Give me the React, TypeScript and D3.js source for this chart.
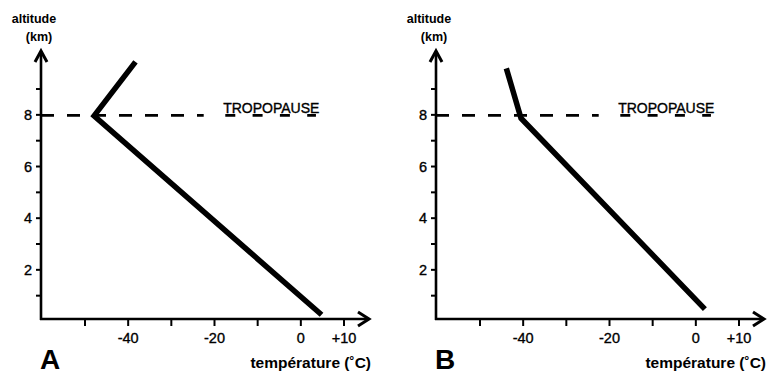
import { useEffect, useRef } from 'react'
import { line, scaleLinear, select } from 'd3'

// temperature (°C) / altitude (km) profiles
const panelLabels = ['A', 'B']
const tempA = [4.8, -47.9, -38.3]
const altA = [0.26, 7.96, 10.05]
const tempB = [2.1, -40.5, -43.9]
const altB = [0.48, 7.87, 9.8]

const xTicks = [-50, -40, -30, -20, -10, 0, 10]
const xTickLabels = ['', '-40', '', '-20', '', '0', '+10']
const yTicks = [1, 2, 3, 4, 5, 6, 7, 8, 9]
const yTickLabels = ['', '2', '', '4', '', '6', '', '8', '']
const tropopause = 8

const dims = {
  width: 774,
  height: 385,
  panelShift: 395,
  axisX: 41,
  axisY: 319,
  arrowTop: 50,
  arrowRight: 370,
}

const font = "'Liberation Sans', Arial, Helvetica, sans-serif"

const App = () => {
  const ref = useRef<SVGSVGElement | null>(null)

  useEffect(() => {
    const svg = select(ref.current)
    svg.selectAll('*').remove()

    const x = scaleLinear().domain([-50, 10]).range([85, 344])
    const y = scaleLinear().domain([0, 10]).range([321.5, 63.2])

    const series = [
      tempA.map((t, i) => ({ t, a: altA[i] })),
      tempB.map((t, i) => ({ t, a: altB[i] })),
    ]

    const path = line<{ t: number; a: number }>()
      .x(d => x(d.t))
      .y(d => y(d.a))

    // plain text, thickened a touch to look like the crisp bitmap lettering
    const label = (g: any, tx: number, ty: number, txt: string, size: number, anchor = 'start', bold = false) =>
      g.append('text')
        .attr('x', tx).attr('y', ty)
        .attr('text-anchor', anchor)
        .attr('font-family', font).attr('font-size', size)
        .attr('font-weight', bold ? 'bold' : 'normal')
        .attr('stroke', bold ? 'none' : '#000').attr('stroke-width', 0.35)
        .text(txt)

    series.forEach((data, p) => {
      const g = svg.append('g').attr('transform', `translate(${p * dims.panelShift}, 0)`)

      // axes
      g.append('line')
        .attr('x1', dims.axisX).attr('x2', dims.axisX)
        .attr('y1', dims.axisY + 1).attr('y2', dims.arrowTop + 1)
        .attr('stroke', '#000').attr('stroke-width', 2.6)
      g.append('line')
        .attr('x1', dims.axisX - 1).attr('x2', dims.arrowRight - 1)
        .attr('y1', dims.axisY).attr('y2', dims.axisY)
        .attr('stroke', '#000').attr('stroke-width', 2.6)
      g.append('path')
        .attr('d', `M${dims.axisX - 6},${dims.arrowTop + 12} L${dims.axisX},${dims.arrowTop + 1} L${dims.axisX + 6},${dims.arrowTop + 12}`)
        .attr('fill', 'none').attr('stroke', '#000').attr('stroke-width', 3)
      g.append('path')
        .attr('d', `M${dims.arrowRight - 12},${dims.axisY - 7} L${dims.arrowRight - 1},${dims.axisY} L${dims.arrowRight - 12},${dims.axisY + 7}`)
        .attr('fill', 'none').attr('stroke', '#000').attr('stroke-width', 3)

      // x ticks
      g.selectAll('.xt').data(xTicks).enter().append('line')
        .attr('x1', d => x(d)).attr('x2', d => x(d))
        .attr('y1', dims.axisY).attr('y2', dims.axisY + 7)
        .attr('stroke', '#000').attr('stroke-width', 2)
      xTicks.forEach((d, i) => label(g, x(d), dims.axisY + 24, xTickLabels[i], 14.5, 'middle'))

      // y ticks
      g.selectAll('.yt').data(yTicks).enter().append('line')
        .attr('x1', dims.axisX - 5).attr('x2', dims.axisX)
        .attr('y1', d => y(d)).attr('y2', d => y(d))
        .attr('stroke', '#000').attr('stroke-width', 2)
      yTicks.forEach((d, i) => label(g, dims.axisX - 9, y(d) + 5, yTickLabels[i], 14.5, 'end'))

      // tropopause
      g.append('line')
        .attr('x1', dims.axisX).attr('x2', x(-22.5))
        .attr('y1', y(tropopause) + 0.5).attr('y2', y(tropopause) + 0.5)
        .attr('stroke', '#000').attr('stroke-width', 2.6)
        .attr('stroke-dasharray', '13 13')
      g.append('line')
        .attr('x1', x(-17.5)).attr('x2', x(3.5))
        .attr('y1', y(tropopause) + 0.5).attr('y2', y(tropopause) + 0.5)
        .attr('stroke', '#000').attr('stroke-width', 2.6)
        .attr('stroke-dasharray', '10 17.3')
      label(g, x(-18), y(tropopause) - 2, 'TROPOPAUSE', 14)

      // profile
      g.append('path')
        .datum(data)
        .attr('d', path)
        .attr('fill', 'none').attr('stroke', '#000')
        .attr('stroke-width', 5.5)
        .attr('stroke-linejoin', 'miter')

      // labels
      label(g, dims.axisX - 7, 23, 'altitude', 12.5, 'middle', true)
      label(g, dims.axisX - 2, 41, '(km)', 12.5, 'middle', true)
      label(g, dims.arrowRight + 1, 368, 'température (˚C)', 15.5, 'end', true)
      label(g, dims.axisX - 1, 369, panelLabels[p], 28, 'start', true)
    })
  }, [])

  return (
    <svg
      ref={ref}
      width={dims.width}
      height={dims.height}
      style={{ position: 'absolute', left: 0, top: 0, background: '#fff' }}
    />
  )
}

export default App
